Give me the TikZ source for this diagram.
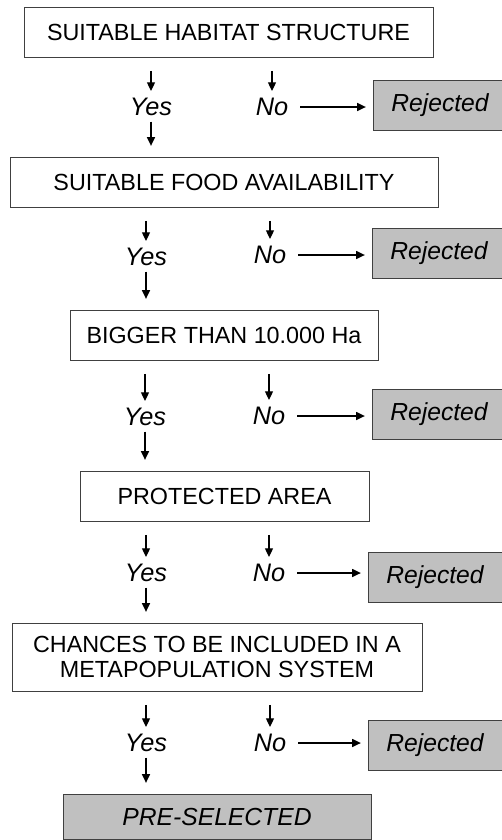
\documentclass[tikz,border=0pt]{standalone}
\usepackage{fontspec}
\setmainfont{Liberation Sans}
\usetikzlibrary{arrows.meta}
\definecolor{boxgrey}{RGB}{192,192,192}
\tikzset{
	stepbox/.style={draw=black!75, line width=0.75pt, inner sep=0pt, align=center, font=\fontsize{17.5}{19}\selectfont},
	rejbox/.style={stepbox, fill=boxgrey, minimum width=100.5pt, minimum height=37.5pt, font=\fontsize{18.5}{20}\selectfont\itshape},
	answer/.style={inner sep=0pt, font=\fontsize{19}{20}\selectfont\itshape},
	arr/.style={-{Triangle[length=6.5pt,width=6pt]}, line width=0.9pt},
	down/.style={arr, shorten <=10pt, shorten >=12pt},
	next/.style={arr, shorten <=11pt, shorten >=8pt},
	side/.style={arr, shorten <=9pt, shorten >=5pt}
}
\begin{document}
\begin{tikzpicture}[x=0.75pt,y=-0.75pt]
			\useasboundingbox (0,0) rectangle (501,840);
			\node[stepbox, minimum width=306.75pt, minimum height=37.5pt] at (228.5,32) (habitat) {SUITABLE HABITAT STRUCTURE};
			\node[stepbox, minimum width=321pt, minimum height=37.5pt] at (224,182) (food) {SUITABLE FOOD AVAILABILITY};
			\node[stepbox, minimum width=231pt, minimum height=37.5pt] at (224,335) (size) {BIGGER THAN 10.000 Ha};
			\node[stepbox, minimum width=216.75pt, minimum height=37.5pt] at (224.5,496) (protect) {PROTECTED AREA};
			\node[stepbox, minimum width=307.5pt, minimum height=51pt] at (217,657) (metapop) {CHANCES TO BE INCLUDED IN A\\METAPOPULATION SYSTEM};
			\node[stepbox, fill=boxgrey, minimum width=231pt, minimum height=33.75pt, font=\fontsize{18.5}{20}\selectfont\itshape] at (217,816.5) (presel) {PRE-SELECTED};
			\node[answer] at (151,107) (yes1) {Yes};
			\node[answer] at (272,107) (no1) {No};
			\node[rejbox] at (440,105.5) (rej1) {Rejected};
			\node[answer] at (146,257) (yes2) {Yes};
			\node[answer] at (270,255) (no2) {No};
			\node[rejbox] at (439,253.5) (rej2) {Rejected};
			\node[answer] at (145,417) (yes3) {Yes};
			\node[answer] at (269,416) (no3) {No};
			\node[rejbox] at (439,414.5) (rej3) {Rejected};
			\node[answer] at (146,573) (yes4) {Yes};
			\node[answer] at (269,573) (no4) {No};
			\node[rejbox] at (435,577.5) (rej4) {Rejected};
			\node[answer] at (146,743) (yes5) {Yes};
			\node[answer] at (270,743) (no5) {No};
			\node[rejbox] at (435,745) (rej5) {Rejected};
			\draw[down] (habitat.south -| yes1) -- (yes1.center);
			\draw[down] (habitat.south -| no1) -- (no1.center);
			\draw[side] (no1.east) -- (no1.east -| rej1.west);
			\draw[next] (yes1.center) -- (yes1.center |- food.north);
			\draw[down] (food.south -| yes2) -- (yes2.center);
			\draw[down] (food.south -| no2) -- (no2.center);
			\draw[side] (no2.east) -- (no2.east -| rej2.west);
			\draw[next] (yes2.center) -- (yes2.center |- size.north);
			\draw[down] (size.south -| yes3) -- (yes3.center);
			\draw[down] (size.south -| no3) -- (no3.center);
			\draw[side] (no3.east) -- (no3.east -| rej3.west);
			\draw[next] (yes3.center) -- (yes3.center |- protect.north);
			\draw[down] (protect.south -| yes4) -- (yes4.center);
			\draw[down] (protect.south -| no4) -- (no4.center);
			\draw[side] (no4.east) -- (no4.east -| rej4.west);
			\draw[next] (yes4.center) -- (yes4.center |- metapop.north);
			\draw[down] (metapop.south -| yes5) -- (yes5.center);
			\draw[down] (metapop.south -| no5) -- (no5.center);
			\draw[side] (no5.east) -- (no5.east -| rej5.west);
			\draw[next] (yes5.center) -- (yes5.center |- presel.north);
		\end{tikzpicture}
\end{document}
